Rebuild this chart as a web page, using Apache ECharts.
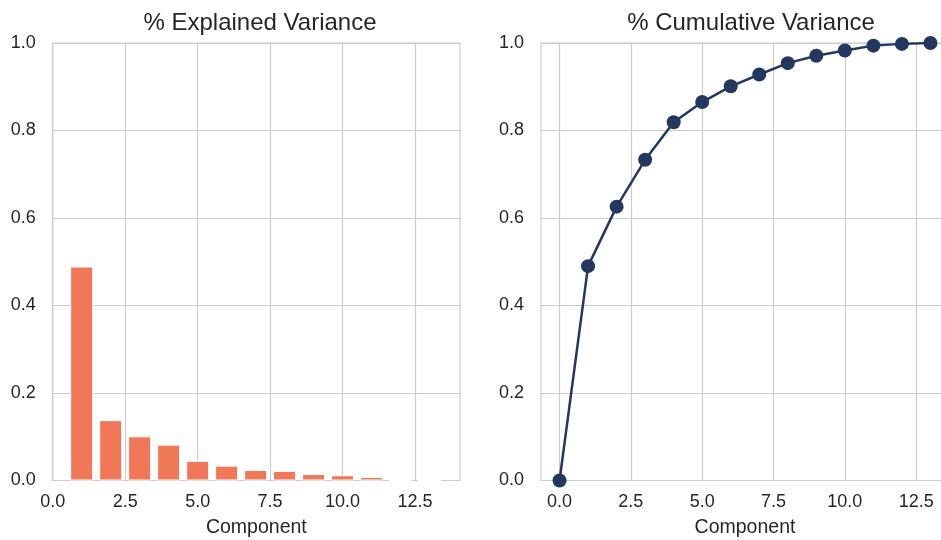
<!DOCTYPE html>
<html>
<head>
<meta charset="utf-8">
<script src="https://cdn.jsdelivr.net/npm/echarts@6/dist/echarts.min.js"></script>
<style>
  html, body { margin: 0; padding: 0; background: #ffffff; }
  #chart { width: 941px; height: 540px; }
</style>
</head>
<body>
<div id="chart"></div>
<script>
// PCA component indices and variance ratios
const components = [1, 2, 3, 4, 5, 6, 7, 8, 9, 10, 11, 12, 13];
const explainedVariance = [0.489, 0.138, 0.101, 0.082, 0.045, 0.034, 0.024, 0.022, 0.015, 0.012, 0.008, 0.0, 0.0];
const cumulativeComponents = [0, 1, 2, 3, 4, 5, 6, 7, 8, 9, 10, 11, 12, 13];
const cumulativeVariance = [0, 0.490, 0.626, 0.733, 0.819, 0.865, 0.901, 0.928, 0.954, 0.971, 0.983, 0.994, 0.998, 1.0];
const xTicks = [0, 2.5, 5, 7.5, 10, 12.5];
const titles = ['% Explained Variance', '% Cumulative Variance'];
const xLabel = 'Component';

const FONT = '"Liberation Sans", Arial, sans-serif';
const TEXT = '#262626';
const GRID = '#cccccc';

function xAxisCfg(gridIndex, min, max) {
  return {
    type: 'value', gridIndex, min, max,
    name: xLabel, nameLocation: 'middle', nameGap: 37,
    nameTextStyle: { fontFamily: FONT, fontSize: 19.5, color: TEXT },
    axisLine: { show: false }, axisTick: { show: false, customValues: xTicks },
    axisLabel: { customValues: xTicks, margin: 13, fontFamily: FONT, fontSize: 18, color: TEXT,
      formatter: v => v.toFixed(1) },
    splitLine: { show: true, lineStyle: { color: GRID, width: 1.2 } }
  };
}
function yAxisCfg(gridIndex) {
  return {
    type: 'value', gridIndex, min: 0, max: 1, interval: 0.2,
    axisLine: { show: false }, axisTick: { show: false },
    axisLabel: { margin: 17, fontFamily: FONT, fontSize: 18, color: TEXT,
      formatter: v => v.toFixed(1) },
    splitLine: { show: true, lineStyle: { color: GRID, width: 1.2 } }
  };
}

const chart = echarts.init(document.getElementById('chart'), null, { renderer: 'canvas' });
chart.setOption({
  animation: false,
  backgroundColor: '#ffffff',
  title: [
    { text: titles[0], left: 255, top: 6, textAlign: 'center',
      textStyle: { fontFamily: FONT, fontSize: 24, fontWeight: 'normal', color: TEXT } },
    { text: titles[1], left: 746, top: 6, textAlign: 'center',
      textStyle: { fontFamily: FONT, fontSize: 24, fontWeight: 'normal', color: TEXT } }
  ],
  grid: [
    { left: 52.7, width: 407.3, top: 43, bottom: 59.5, show: true, borderColor: GRID, borderWidth: 1.2,
      outerBoundsMode: 'none', containLabel: false },
    { left: 541, width: 408, top: 43, bottom: 59.5, show: true, borderColor: GRID, borderWidth: 1.2,
      outerBoundsMode: 'none', containLabel: false }
  ],
  xAxis: [xAxisCfg(0, 0, 14.05), xAxisCfg(1, -0.65, 13.65)],
  yAxis: [yAxisCfg(0), yAxisCfg(1)],
  series: [
    {
      type: 'bar', xAxisIndex: 0, yAxisIndex: 0,
      data: components.map((c, i) => [c, explainedVariance[i]]),
      barWidth: 23,
      itemStyle: { color: '#f07858', borderColor: '#ffffff', borderWidth: 1 }
    },
    {
      type: 'line', xAxisIndex: 1, yAxisIndex: 1,
      data: cumulativeComponents.map((c, i) => [c, cumulativeVariance[i]]),
      symbol: 'circle', symbolSize: 14,
      lineStyle: { color: '#24375e', width: 2.5 },
      itemStyle: { color: '#24375e' }
    }
  ]
});
</script>
</body>
</html>
